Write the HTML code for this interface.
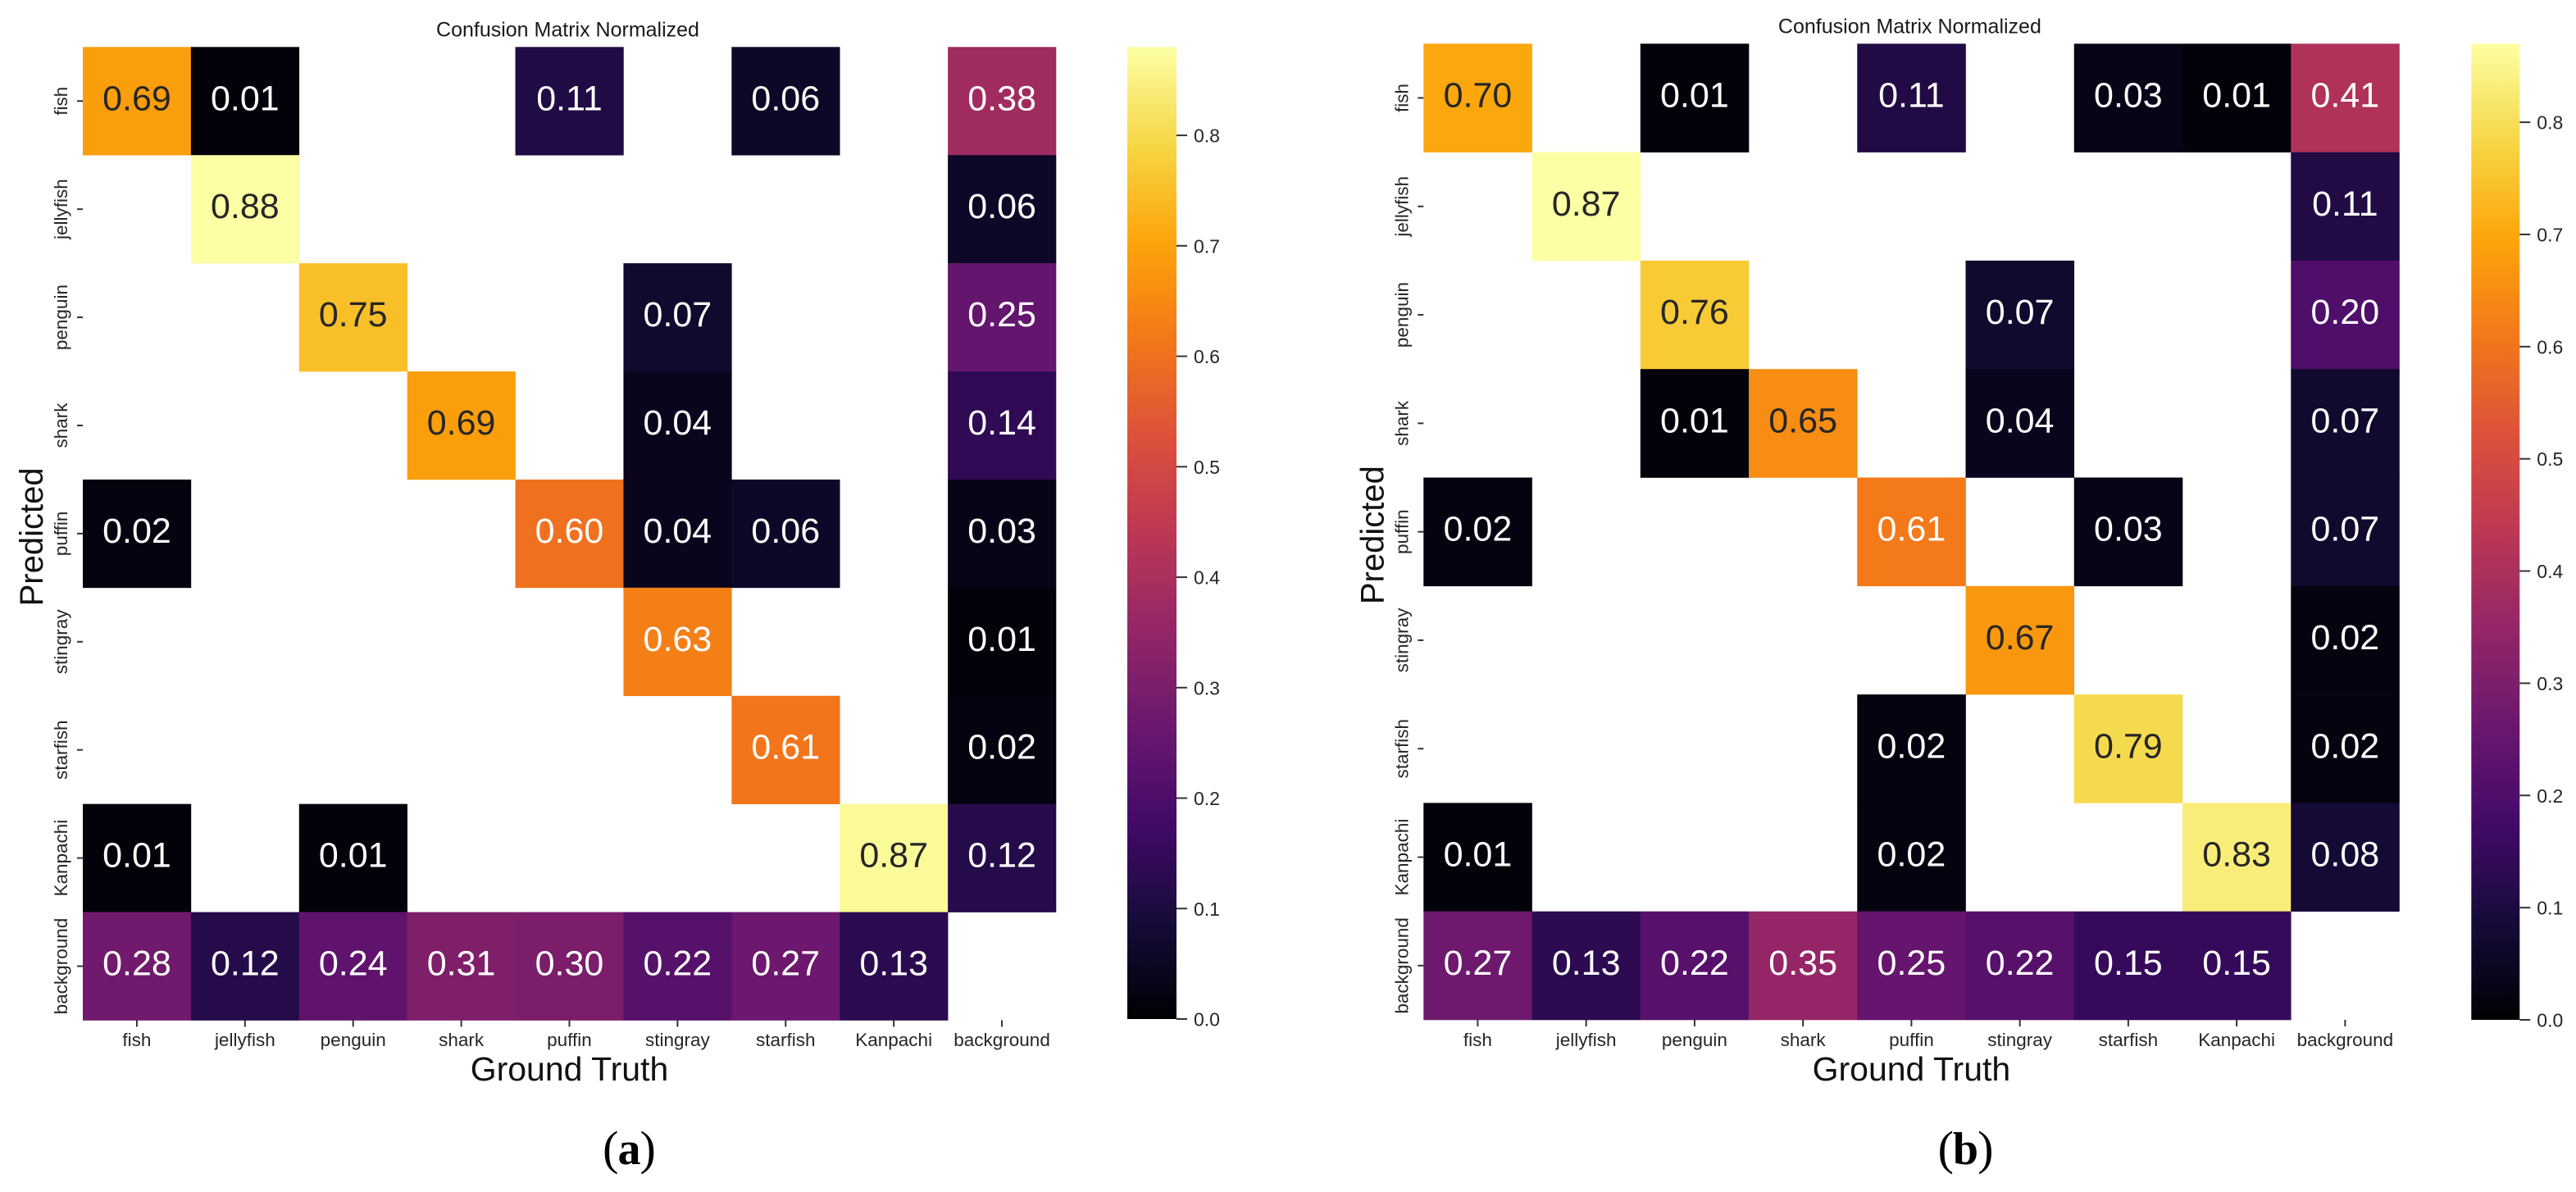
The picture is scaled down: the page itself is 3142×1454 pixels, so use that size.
<!DOCTYPE html>
<html lang="en">
<head>
<meta charset="utf-8">
<title>Confusion Matrices</title>
<style>
html,body{margin:0;padding:0;background:#fff;width:3142px;height:1454px;overflow:hidden}
svg{display:block}
text{font-family:"Liberation Sans",Arial,sans-serif}
</style>
</head>
<body>
<svg id="figure" xmlns="http://www.w3.org/2000/svg" width="3142" height="1454" viewBox="0 0 3142 1454"></svg>
<script>
const classLabels = ["fish","jellyfish","penguin","shark","puffin","stingray","starfish","Kanpachi","background"];
const matrixA = [
  [0.69,0.01,null,null,0.11,null,0.06,null,0.38],
  [null,0.88,null,null,null,null,null,null,0.06],
  [null,null,0.75,null,null,0.07,null,null,0.25],
  [null,null,null,0.69,null,0.04,null,null,0.14],
  [0.02,null,null,null,0.60,0.04,0.06,null,0.03],
  [null,null,null,null,null,0.63,null,null,0.01],
  [null,null,null,null,null,null,0.61,null,0.02],
  [0.01,null,0.01,null,null,null,null,0.87,0.12],
  [0.28,0.12,0.24,0.31,0.30,0.22,0.27,0.13,null]
];
const matrixB = [
  [0.70,null,0.01,null,0.11,null,0.03,0.01,0.41],
  [null,0.87,null,null,null,null,null,null,0.11],
  [null,null,0.76,null,null,0.07,null,null,0.20],
  [null,null,0.01,0.65,null,0.04,null,null,0.07],
  [0.02,null,null,null,0.61,null,0.03,null,0.07],
  [null,null,null,null,null,0.67,null,null,0.02],
  [null,null,null,null,0.02,null,0.79,null,0.02],
  [0.01,null,null,null,0.02,null,null,0.83,0.08],
  [0.27,0.13,0.22,0.35,0.25,0.22,0.15,0.15,null]
];
const colorbarTicks = [0.0,0.1,0.2,0.3,0.4,0.5,0.6,0.7,0.8];
const vmaxA = 0.88;
const vmaxB = 0.87;
const infernoStops = ["#000004","#160b39","#420a68","#6a176e","#932667","#bc3754","#dd513a","#f37819","#fca50a","#f6d746","#fcffa4"];

const NS = "http://www.w3.org/2000/svg";
const root = document.getElementById("figure");

function make(tag, attrs, parent, txt) {
  const el = document.createElementNS(NS, tag);
  for (const k in attrs) el.setAttribute(k, attrs[k]);
  if (txt !== undefined) el.textContent = txt;
  parent.appendChild(el);
  return el;
}
function hexToRgb(h) {
  return [parseInt(h.slice(1,3),16),parseInt(h.slice(3,5),16),parseInt(h.slice(5,7),16)];
}
function infernoRgb(t) {
  const p = Math.max(0, Math.min(1, t)) * (infernoStops.length - 1);
  const i = Math.min(Math.floor(p), infernoStops.length - 2);
  const f = p - i;
  const a = hexToRgb(infernoStops[i]);
  const b = hexToRgb(infernoStops[i + 1]);
  return a.map(function (c, k) { return Math.round(c + (b[k] - c) * f); });
}
function toCss(rgb) { return "rgb(" + rgb.join(",") + ")"; }
function luminance(rgb) {
  const l = rgb.map(function (c) {
    const s = c / 255;
    return s <= 0.03928 ? s / 12.92 : Math.pow((s + 0.055) / 1.055, 2.4);
  });
  return 0.2126 * l[0] + 0.7152 * l[1] + 0.0722 * l[2];
}

let gradientCount = 0;
function drawPanel(cfg) {
  const matrix = cfg.matrix;
  const vmax = cfg.vmax;
  const n = classLabels.length;
  const xScale = function (col) { return cfg.x0 + col * (cfg.x1 - cfg.x0) / n; };
  const yScale = function (row) { return cfg.y0 + row * (cfg.y1 - cfg.y0) / n; };
  const cbScale = function (v) { return cfg.cbBottom - v / vmax * (cfg.cbBottom - cfg.y0); };
  const cw = (cfg.x1 - cfg.x0) / n;
  const ch = (cfg.y1 - cfg.y0) / n;

  const g = make("g", {}, root);
  
  

  const title = make("text", {x:(cfg.x0 + cfg.x1) / 2 - 2, y:cfg.titleY, "font-size":25, fill:"#1a1a1a", "text-anchor":"middle"}, g, "Confusion Matrix Normalized");
  
  

  matrix.forEach(function (rowVals, r) {
    rowVals.forEach(function (v, c) {
      if (v === null) return;
      const rgb = infernoRgb(v / vmax);
      const cell = make("rect", {x:xScale(c), y:yScale(r), width:cw + 0.3, height:ch + 0.3, fill:toCss(rgb)}, g);
      
      
    });
  });
  matrix.forEach(function (rowVals, r) {
    rowVals.forEach(function (v, c) {
      if (v === null) return;
      const rgb = infernoRgb(v / vmax);
      const txtColor = luminance(rgb) > 0.375 ? "#262626" : "#ffffff";
      const t = make("text", {x:xScale(c) + cw / 2, y:yScale(r) + ch / 2 + 11, "font-size":43, fill:txtColor, "text-anchor":"middle"}, g, v.toFixed(2));
      
      
    });
  });

  classLabels.forEach(function (label, i) {
    const cx = xScale(i) + cw / 2;
    const tickX = make("line", {x1:cx, x2:cx, y1:cfg.y1, y2:cfg.y1 + 8, stroke:"#333", "stroke-width":2}, g);
    
    
    const lx = make("text", {x:cx, y:1276, "font-size":22.5, fill:"#262626", "text-anchor":"middle"}, g, label);
    
    

    const cy = yScale(i) + ch / 2;
    const tickY = make("line", {x1:cfg.x0 - 7, x2:cfg.x0, y1:cy, y2:cy, stroke:"#333", "stroke-width":2}, g);
    
    
    const ax = cfg.x0 - 19;
    const ly = make("text", {x:ax, y:cy, "font-size":22.5, fill:"#262626", "text-anchor":"middle", transform:"rotate(-90 " + ax + " " + cy + ")"}, g, label);
    
    
  });

  const px = cfg.x0 - 49;
  const py = (cfg.y0 + cfg.y1) / 2 + 4;
  const yTitle = make("text", {x:px, y:py, "font-size":40, fill:"#111", "text-anchor":"middle", transform:"rotate(-90 " + px + " " + py + ")"}, g, "Predicted");
  
  

  const xTitle = make("text", {x:(cfg.x0 + cfg.x1) / 2, y:1318, "font-size":41, fill:"#111", "text-anchor":"middle"}, g, "Ground Truth");
  
  

  gradientCount += 1;
  const gradId = "cb-grad-" + gradientCount;
  const defs = make("defs", {}, g);
  const grad = make("linearGradient", {id:gradId, x1:0, y1:1, x2:0, y2:0}, defs);
  for (let i = 0; i <= 40; i++) {
    make("stop", {offset:i / 40, "stop-color":toCss(infernoRgb(i / 40))}, grad);
  }
  const bar = make("rect", {x:cfg.cbLeft, y:cfg.y0, width:cfg.cbRight - cfg.cbLeft, height:cfg.cbBottom - cfg.y0, fill:"url(#" + gradId + ")"}, g);
  
  

  colorbarTicks.forEach(function (v) {
    const y = cbScale(v);
    const tk = make("line", {x1:cfg.cbRight, x2:cfg.cbRight + 13, y1:y, y2:y, stroke:"#333", "stroke-width":2}, g);
    
    
    const lb = make("text", {x:cfg.cbRight + 21, y:y + 8.5, "font-size":23, fill:"#262626"}, g, v.toFixed(1));
    
    
  });

  const cap = make("text", {x:cfg.capX, y:1420, "font-size":58, fill:"#000", "text-anchor":"middle", "letter-spacing":"-1", style:'font-family:"Liberation Serif",serif'}, g);
  
  
  make("tspan", {}, cap, "(");
  make("tspan", {"font-weight":"bold", "font-size":56}, cap, cfg.key);
  make("tspan", {}, cap, ")");
}

drawPanel({key:"a", matrix:matrixA, vmax:vmaxA, x0:101, x1:1288, y0:57.3, y1:1244.5, cbLeft:1375, cbRight:1435, cbBottom:1243, titleY:44.5, capX:767});
drawPanel({key:"b", matrix:matrixB, vmax:vmaxB, x0:1736.3, x1:2926.5, y0:53.3, y1:1244, cbLeft:3014.3, cbRight:3073.3, cbBottom:1244, titleY:40.5, capX:2397});
</script>
</body>
</html>
